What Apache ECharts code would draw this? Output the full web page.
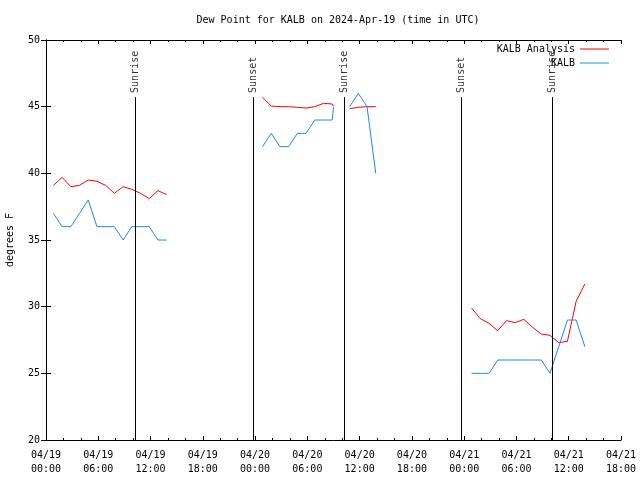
<!DOCTYPE html>
<html>
<head>
<meta charset="utf-8">
<script src="https://cdn.jsdelivr.net/npm/echarts@6/dist/echarts.min.js"></script>
<style>
html,body{margin:0;padding:0;background:#fff;}
#chart{width:640px;height:480px;}
</style>
</head>
<body>
<div id="chart"></div>
<script>
// Hours since 2024-04-19 00:00 UTC
const seg1Hours = [0.85,1.85,2.85,3.85,4.85,5.85,6.85,7.85,8.85,9.85,10.85,11.85,12.85,13.85];
const seg2Hours = [24.85,25.85,26.85,27.85,28.85,29.85,30.85,31.85,32.85,33.0];
const seg3Hours = [34.85,35.85,36.85,37.85];
const seg4Hours = [48.85,49.85,50.85,51.85,52.85,53.85,54.85,55.85,56.85,57.85,58.85,59.85,60.85,61.85];

const analysis1 = [39.1,39.7,39.0,39.1,39.5,39.4,39.1,38.5,39.0,38.8,38.5,38.1,38.7,38.4];
const analysis2 = [45.7,45.05,45.0,45.0,44.95,44.9,45.0,45.25,45.2,45.05];
const analysis3 = [44.85,44.95,45.0,45.0];
const analysis4 = [29.9,29.1,28.75,28.2,28.95,28.8,29.05,28.45,27.95,27.85,27.3,27.4,30.4,31.7];

const kalb1 = [37,36,36,37,38,36,36,36,35,36,36,36,35,35];
const kalb2 = [42,43,42,42,43,43,44,44,44,45];
const kalb3 = [45,46,45,40];
const kalb4 = [25,25,25,26,26,26,26,26,26,25,27,29,29,27];

const sunHours = [10.28,23.75,34.25,47.72,58.12];
const sunNames = ['Sunrise','Sunset','Sunrise','Sunset','Sunrise'];

const xTickLabels = ['04/19\n00:00','04/19\n06:00','04/19\n12:00','04/19\n18:00',
  '04/20\n00:00','04/20\n06:00','04/20\n12:00','04/20\n18:00',
  '04/21\n00:00','04/21\n06:00','04/21\n12:00','04/21\n18:00'];

const FONT = 'DejaVu Sans Mono';
const RED = '#ff0000';
const BLUE = '#1e88f0';

function zip(h, v){ return h.map((x,i)=>[x, v[i]]); }

const segs = [
  [seg1Hours, analysis1, kalb1],
  [seg2Hours, analysis2, kalb2],
  [seg3Hours, analysis3, kalb3],
  [seg4Hours, analysis4, kalb4]
];

const series = [];
segs.forEach(s => {
  series.push({name:'KALB Analysis', type:'line', data: zip(s[0], s[1]), symbol:'none',
    lineStyle:{color:RED, width:1}, itemStyle:{color:RED}, animation:false, z:3});
});
segs.forEach(s => {
  series.push({name:'KALB', type:'line', data: zip(s[0], s[2]), symbol:'none',
    lineStyle:{color:BLUE, width:1}, itemStyle:{color:BLUE}, animation:false, z:3});
});

const labelTop = 46.03;
const lineTop = 45.72;
series.push({
  name:'sun', type:'scatter', symbolSize:1, itemStyle:{color:'rgba(0,0,0,0)'},
  data: sunHours.map((h,i)=>({value:[h, labelTop], name:sunNames[i]})),
  label:{show:true, formatter:p=>p.name, rotate:90, position:'inside', align:'left', verticalAlign:'middle',
    fontFamily:FONT, fontSize:10, color:'#000'},
  silent:true, animation:false, z:2,
  markLine:{
    silent:true, animation:false, symbol:['none','none'],
    lineStyle:{color:'#000', type:'solid', width:1},
    label:{show:false},
    data: sunHours.map(h=>[{coord:[h,20]},{coord:[h,lineTop]}])
  }
});

const xCommon = {
  type:'value', min:0, max:66, interval:6,
  axisLine:{show:true, lineStyle:{color:'#000', width:1}},
  axisTick:{show:true, inside:true, length:4, lineStyle:{color:'#000'}},
  minorTick:{show:true, splitNumber:3, length:2, lineStyle:{color:'#000'}},
  splitLine:{show:false}, minorSplitLine:{show:false}
};
const yCommon = {
  type:'value', min:20, max:50, interval:5,
  axisLine:{show:true, lineStyle:{color:'#000', width:1}},
  axisTick:{show:true, inside:true, length:5, lineStyle:{color:'#000'}},
  splitLine:{show:false}
};

const option = {
  animation:false,
  backgroundColor:'#fff',
  title:{text:'Dew Point for KALB on 2024-Apr-19 (time in UTC)', left:333, top:10, textAlign:'center',
    textStyle:{fontFamily:FONT, fontSize:10, fontWeight:'normal', color:'#000'}},
  grid:{left:46, right:19, top:40, bottom:40, containLabel:false, outerBoundsMode:'none'},
  legend:[
    {data:['KALB Analysis'], right:31, top:44, align:'right', icon:'rect', itemWidth:29, itemHeight:1,
     textStyle:{fontFamily:FONT, fontSize:10, color:'#000'}, selectedMode:false, padding:0},
    {data:['KALB'], right:31, top:58, align:'right', icon:'rect', itemWidth:29, itemHeight:1,
     textStyle:{fontFamily:FONT, fontSize:10, color:'#000'}, selectedMode:false, padding:0}
  ],
  xAxis:[
    Object.assign({}, xCommon, {position:'bottom',
      axisLabel:{show:true, showMinLabel:true, showMaxLabel:true, hideOverlap:false, margin:8, lineHeight:14,
        fontFamily:FONT, fontSize:10, color:'#000',
        formatter:v=>xTickLabels[Math.round(v/6)] || ''}}),
    Object.assign({}, xCommon, {position:'top', axisLabel:{show:false}})
  ],
  yAxis:[
    Object.assign({}, yCommon, {position:'left', name:'degrees F', nameLocation:'middle', nameGap:31,
      nameTextStyle:{fontFamily:FONT, fontSize:10, color:'#000'},
      axisLabel:{show:true, margin:6, fontFamily:FONT, fontSize:10, color:'#000'}}),
    Object.assign({}, yCommon, {position:'right', axisLabel:{show:false}})
  ],
  series: series
};

const chart = echarts.init(document.getElementById('chart'), null, {renderer:'canvas'});
chart.setOption(option);
</script>
</body>
</html>
